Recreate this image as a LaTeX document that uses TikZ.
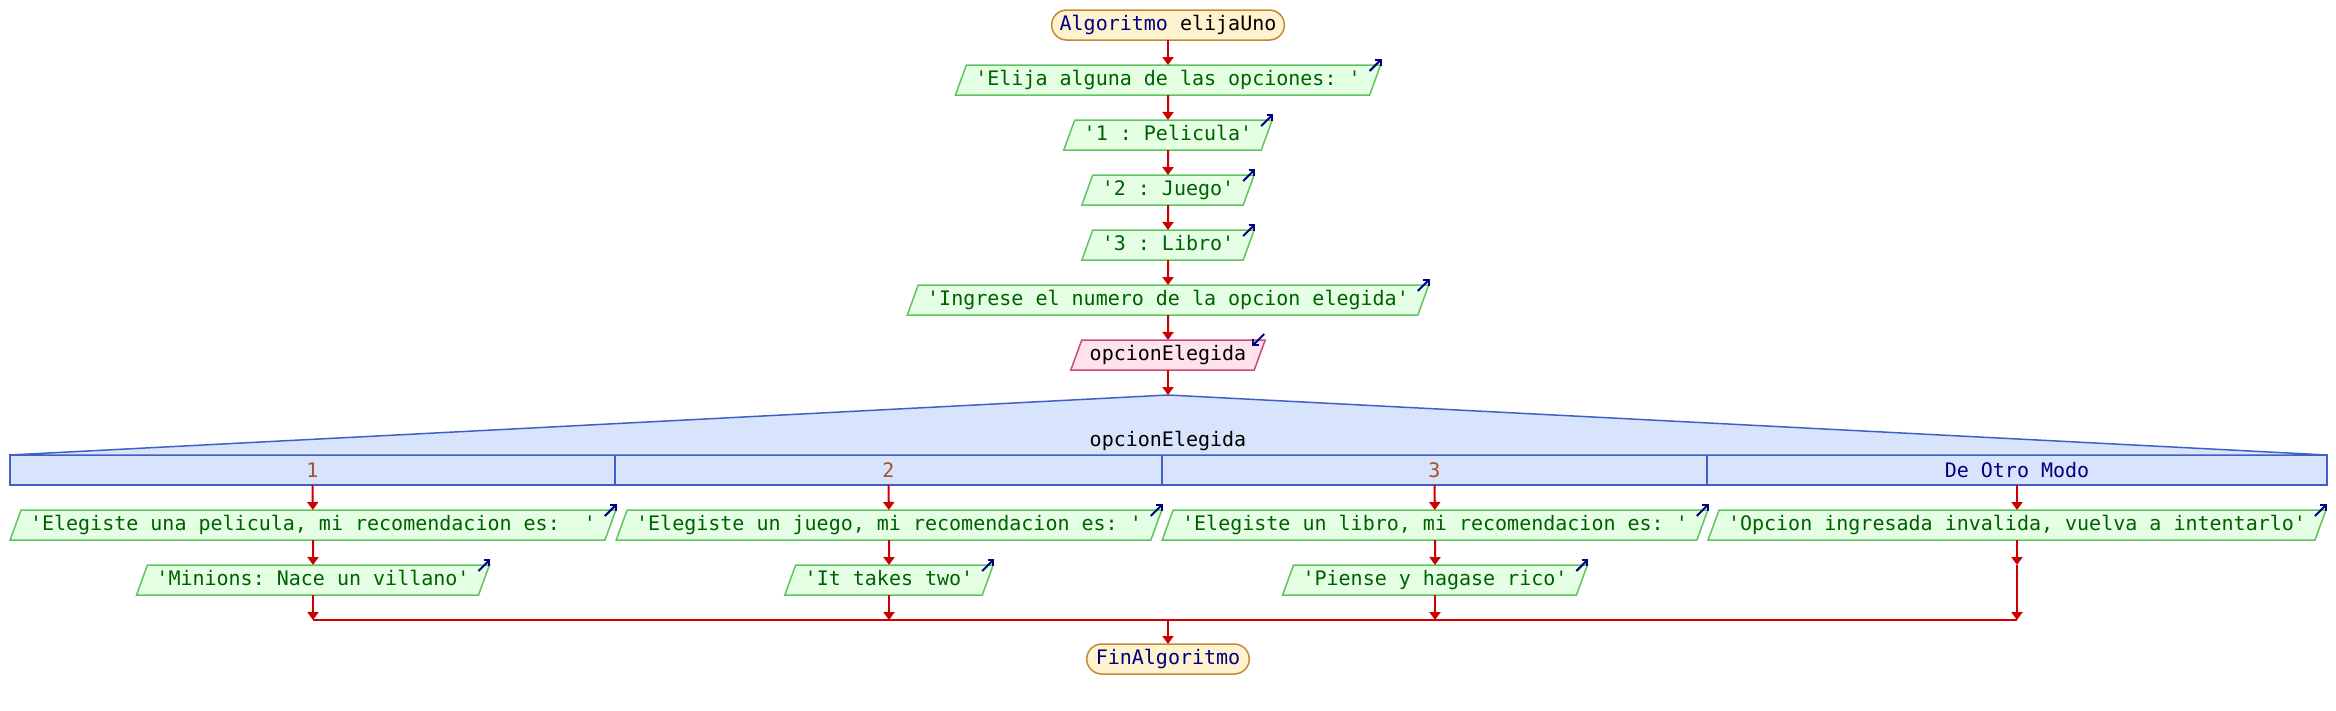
\documentclass[tikz,border=0pt]{standalone}
\usepackage{fontspec}
\setmonofont{DejaVu Sans Mono}
\usetikzlibrary{shapes.geometric,arrows.meta}

\definecolor{fondoTerm}{RGB}{255,242,206}
\definecolor{bordeTerm}{RGB}{196,136,56}
\definecolor{fondoSal}{RGB}{228,255,228}
\definecolor{bordeSal}{RGB}{96,196,96}
\definecolor{fondoEnt}{RGB}{255,226,236}
\definecolor{bordeEnt}{RGB}{200,72,128}
\definecolor{fondoSel}{RGB}{216,228,252}
\definecolor{bordeSel}{RGB}{64,96,200}
\definecolor{rojoPs}{RGB}{204,0,0}
\definecolor{azulPs}{RGB}{0,0,128}
\definecolor{verdePs}{RGB}{0,96,0}
\definecolor{marronPs}{RGB}{170,80,40}

\begin{document}
\begin{tikzpicture}[x=1pt, y=-1pt, font=\ttfamily\fontsize{20}{24}\selectfont]
    % Estilos
    \tikzstyle{terminal} = [rectangle, draw=bordeTerm, fill=fondoTerm, rounded corners=15pt, line width=1.5pt, text=azulPs, text height=15pt, text depth=5pt, inner xsep=8pt, inner ysep=5pt, outer sep=0pt]
    \tikzstyle{salida} = [trapezium, trapezium left angle=70, trapezium right angle=110, draw=bordeSal, fill=fondoSal, line width=1.5pt, text=verdePs, text height=15pt, text depth=5pt, inner xsep=9pt, inner ysep=5pt, outer sep=0pt]
    \tikzstyle{entrada} = [salida, draw=bordeEnt, fill=fondoEnt, text=black, inner xsep=8pt]
    \tikzstyle{caso} = [rectangle, draw=bordeSel, fill=fondoSel, line width=1.5pt, minimum height=30pt, inner sep=0pt, outer sep=0pt, text=marronPs]
    \tikzstyle{flecha} = [draw=rojoPs, line width=2pt, -{Triangle[length=8pt,width=11pt]}]
    \tikzstyle{icono} = [draw=azulPs, line width=2pt, -{Straight Barb[length=4pt,width=8pt]}]

    \useasboundingbox (0,0) rectangle (2336,710);

    % Nodos
    \node (inicio) [terminal] at (1168,25) {Algoritmo \textcolor{black}{elijaUno}};
    \node (o1) [salida] at (1168,80) {'Elija alguna de las opciones: '};
    \node (o2) [salida] at (1168,135) {'1 : Pelicula'};
    \node (o3) [salida] at (1168,190) {'2 : Juego'};
    \node (o4) [salida] at (1168,245) {'3 : Libro'};
    \node (o5) [salida] at (1168,300) {'Ingrese el numero de la opcion elegida'};
    \node (leer) [entrada] at (1168,355) {opcionElegida};
    \coordinate (pico) at (1168,395);

    % Segun
    \node (c1) [caso, minimum width=605pt] at (312.5,470) {1};
    \node (c2) [caso, minimum width=547pt] at (888.5,470) {2};
    \node (c3) [caso, minimum width=545pt] at (1434.5,470) {3};
    \node (c4) [caso, minimum width=620pt, text=azulPs] at (2017,470) {De Otro Modo};
    \filldraw [fill=fondoSel, draw=bordeSel, line width=1.5pt] (c1.north west) -- (pico) -- (c4.north east) -- cycle;
    \node (segun) at (1168,441) {opcionElegida};

    \node (s11) [salida] at (313,525) {'Elegiste una pelicula, mi recomendacion es:~~'};
    \node (s12) [salida] at (313,580) {'Minions: Nace un villano'};
    \node (s21) [salida] at (889,525) {'Elegiste un juego, mi recomendacion es: '};
    \node (s22) [salida] at (889,580) {'It takes two'};
    \node (s31) [salida] at (1435,525) {'Elegiste un libro, mi recomendacion es: '};
    \node (s32) [salida] at (1435,580) {'Piense y hagase rico'};
    \node (s41) [salida] at (2017,525) {'Opcion ingresada invalida, vuelva a intentarlo'};
    \coordinate (v4) at (2017,565);

    \coordinate (j1) at (313,620);
    \coordinate (j2) at (889,620);
    \coordinate (j3) at (1435,620);
    \coordinate (j4) at (2017,620);
    \coordinate (jc) at (1168,620);
    \node (fin) [terminal, inner xsep=9pt] at (1168,659) {FinAlgoritmo};

    % Iconos
    \draw [icono] ([shift={(-11,6)}]o1.top right corner) -- ++(12,-12);
    \draw [icono] ([shift={(-11,6)}]o2.top right corner) -- ++(12,-12);
    \draw [icono] ([shift={(-11,6)}]o3.top right corner) -- ++(12,-12);
    \draw [icono] ([shift={(-11,6)}]o4.top right corner) -- ++(12,-12);
    \draw [icono] ([shift={(-11,6)}]o5.top right corner) -- ++(12,-12);
    \draw [icono] ([shift={(-1,-6)}]leer.top right corner) -- ++(-12,12);
    \draw [icono] ([shift={(-11,6)}]s11.top right corner) -- ++(12,-12);
    \draw [icono] ([shift={(-11,6)}]s12.top right corner) -- ++(12,-12);
    \draw [icono] ([shift={(-11,6)}]s21.top right corner) -- ++(12,-12);
    \draw [icono] ([shift={(-11,6)}]s22.top right corner) -- ++(12,-12);
    \draw [icono] ([shift={(-11,6)}]s31.top right corner) -- ++(12,-12);
    \draw [icono] ([shift={(-11,6)}]s32.top right corner) -- ++(12,-12);
    \draw [icono] ([shift={(-11,6)}]s41.top right corner) -- ++(12,-12);

    % Flechas
    \draw [flecha] (inicio) -- (o1);
    \draw [flecha] (o1) -- (o2);
    \draw [flecha] (o2) -- (o3);
    \draw [flecha] (o3) -- (o4);
    \draw [flecha] (o4) -- (o5);
    \draw [flecha] (o5) -- (leer);
    \draw [flecha] (leer) -- (pico);
    \draw [flecha] (c1.south) -- (s11);
    \draw [flecha] (c2.south) -- (s21);
    \draw [flecha] (c3.south) -- (s31);
    \draw [flecha] (c4.south) -- (s41);
    \draw [flecha] (s11) -- (s12);
    \draw [flecha] (s21) -- (s22);
    \draw [flecha] (s31) -- (s32);
    \draw [flecha] (s41) -- (v4);
    \draw [flecha] (s12) -- (j1);
    \draw [flecha] (s22) -- (j2);
    \draw [flecha] (s32) -- (j3);
    \draw [flecha] (v4) -- (j4);
    \draw [draw=rojoPs, line width=2pt] (j1) -- (j4);
    \draw [flecha] (jc) -- (fin);
\end{tikzpicture}
\end{document}
